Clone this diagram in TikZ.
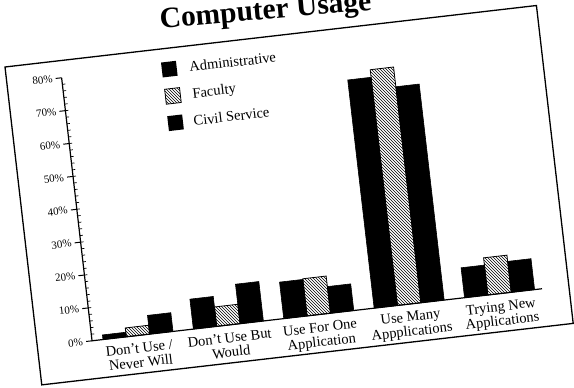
\documentclass[tikz,border=0pt]{standalone}
\usepackage{fontspec}
\setmainfont{Liberation Serif}
\usetikzlibrary{patterns}
\begin{document}
\begin{tikzpicture}[x=1pt,y=-1pt,
  barA/.style={fill=black,draw=black,line width=0.6pt},
  barF/.style={pattern=north west lines,draw=black,line width=0.8pt},
  axisline/.style={draw=black,line width=1.2pt},
  lab/.style={font=\fontsize{14.5}{15}\selectfont,anchor=base,inner sep=0pt},
  ylab/.style={font=\fontsize{11}{12}\selectfont,anchor=east,inner sep=0pt},
  leg/.style={font=\fontsize{14.5}{15}\selectfont,anchor=base west,inner sep=0pt},
  ttl/.style={font=\fontsize{29.5}{31}\selectfont\bfseries,anchor=base,inner sep=0pt}]
\useasboundingbox (0,0) rectangle (574,388);
\clip (0,0) rectangle (574,388);
\begin{scope}[shift={(5,67)},rotate=6.6,transform shape]
  % frame
  \draw[line width=1.3pt] (0,0) rectangle (535,320);
  % title
  \node[ttl,rotate=-1.5] (title) at (265,-17.3) {Computer Usage};
  % bars
  \def\bw{23.5}
  \foreach \g/\a/\f/\c in {66/1.4/2.7/5.7, 157/9.1/5.9/12, 248/11.1/11.3/8.1, 339/69.4/71.7/65.7, 430/9.1/11.3/9.4}{
    \draw[barA] (\g,282) rectangle ++(\bw,{-3.31*\a});
    \draw[barF] ({\g+\bw},282) rectangle ++(\bw,{-3.31*\f});
    \draw[barA] ({\g+2*\bw},282) rectangle ++(\bw,{-3.31*\c});
  }
  % axes
  \draw[axisline] (55,17.2) -- (55,282) -- (508,282);
  \foreach \p in {0,10,...,80}{
    \draw[line width=1pt] (49,{282-3.31*\p}) -- (55,{282-3.31*\p});
    \node[ylab] (y\p) at (46,{282-3.31*\p}) {\p\%};
  }
  \foreach \p in {2,4,...,78}{
    \draw[line width=0.7pt] (55,{282-3.31*\p}) -- (58,{282-3.31*\p});
  }
  % legend
  \fill[black] (155.5,13.5) rectangle ++(15,15);
  \draw[barF] (156,40.5) rectangle ++(15,15);
  \fill[black] (155.5,67.5) rectangle ++(15,15);
  \node[leg] (legA) at (183,26) {Administrative};
  \node[leg] (legF) at (183,52.5) {Faculty};
  \node[leg] (legC) at (181,80) {Civil Service};
  % group labels
  \node[lab] (g1a) at (101,299.5) {Don't Use /};
  \node[lab] (g1b) at (101,314) {Never Will};
  \node[lab] (g2a) at (192,299.5) {Don't Use But};
  \node[lab] (g2b) at (192,314) {Would};
  \node[lab] (g3a) at (283,299.5) {Use For One};
  \node[lab] (g3b) at (283,314) {Application};
  \node[lab] (g4a) at (374,299.5) {Use Many};
  \node[lab] (g4b) at (374,314) {Appplications};
  \node[lab] (g5a) at (465,299.5) {Trying New};
  \node[lab] (g5b) at (465,314) {Applications};
\end{scope}
\end{tikzpicture}
\end{document}
